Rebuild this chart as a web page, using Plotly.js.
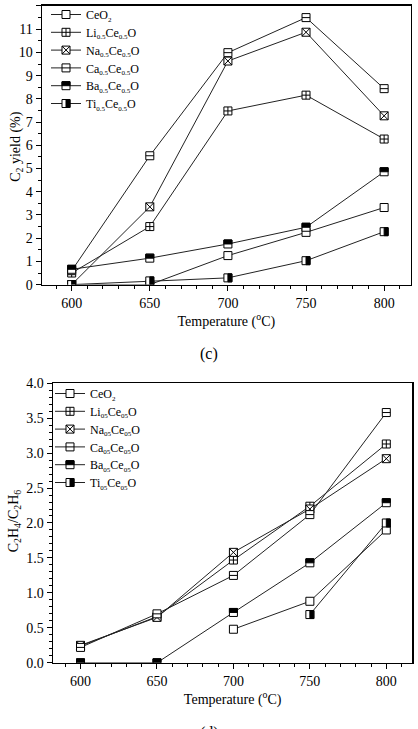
<!DOCTYPE html>
<html><head><meta charset="utf-8">
<script src="https://cdn.plot.ly/plotly-3.0.1.min.js"></script>
<style>html,body{margin:0;padding:0;background:#fff}#chart{width:418px;height:729px}</style>
</head><body><div id="chart"></div>
<script>
const temps = [600, 650, 700, 750, 800];
const seriesKeys = ['CeO2', 'Li', 'Na', 'Ca', 'Ba', 'Ti'];
const subTop = '0.5';
const subBottom = '05';
const elements = ['Li', 'Na', 'Ca', 'Ba', 'Ti'];

// (c) C2 yield (%)
const yieldCeO2 = [0.0, 0.0, 1.25, 2.25, 3.32];
const yieldLi   = [0.5, 2.5, 7.48, 8.16, 6.27];
const yieldNa   = [0.0, 3.35, 9.63, 10.87, 7.27];
const yieldCa   = [0.6, 5.55, 9.99, 11.5, 8.44];
const yieldBa   = [0.66, 1.14, 1.75, 2.47, 4.86];
const yieldTi   = [0.0, 0.16, 0.29, 1.03, 2.28];

// (d) C2H4/C2H6 ratio
const ratioCeO2 = [null, null, 0.48, 0.88, 1.90];
const ratioLi   = [0.24, 0.66, 1.47, 2.24, 3.13];
const ratioNa   = [0.25, 0.65, 1.58, 2.20, 2.92];
const ratioCa   = [0.22, 0.70, 1.25, 2.12, 3.58];
const ratioBa   = [0.0, 0.0, 0.72, 1.43, 2.29];
const ratioTi   = [null, null, null, 0.69, 2.00];

const topData = [yieldCeO2, yieldLi, yieldNa, yieldCa, yieldBa, yieldTi];
const botData = [ratioCeO2, ratioLi, ratioNa, ratioCa, ratioBa, ratioTi];
const symbols = {CeO2: 'square', Li: 'square-cross', Na: 'square-x', Ca: 'square', Ba: 'square', Ti: 'square'};

const small = s => `<sub><span style="font-size:7px">${s}</span></sub>`;
const namesTop = ['CeO' + small('2')].concat(elements.map(e => `${e}${small(subTop)}Ce${small(subTop)}O`));
const namesBottom = ['CeO' + small('2')].concat(elements.map(e => `${e}${small(subBottom)}Ce${small(subBottom)}O`));

const FONT = '"Liberation Serif", serif';
const traces = [];
seriesKeys.forEach((k, i) => {
  traces.push({
    x: temps, y: topData[i], name: namesTop[i], meta: k, type: 'scatter', mode: 'lines+markers',
    xaxis: 'x', yaxis: 'y', legend: 'legend',
    line: {color: '#222', width: 1},
    marker: {symbol: symbols[k], size: 8, color: '#fff', line: {color: '#000', width: 1}},
    connectgaps: false
  });
});
seriesKeys.forEach((k, i) => {
  traces.push({
    x: temps, y: botData[i], name: namesBottom[i], meta: k, type: 'scatter', mode: 'lines+markers',
    xaxis: 'x2', yaxis: 'y2', legend: 'legend2',
    line: {color: '#222', width: 1},
    marker: {symbol: symbols[k], size: 8, color: '#fff', line: {color: '#000', width: 1}},
    connectgaps: false
  });
});

const W = 418, H = 729;
const axBase = {
  showline: true, linecolor: '#000', linewidth: 1.5, mirror: true,
  ticks: 'outside', ticklen: 5, tickwidth: 1, tickcolor: '#000',
  showgrid: false, zeroline: false,
  tickfont: {family: FONT, size: 14, color: '#000'},
  minor: {ticks: 'outside', ticklen: 3, tickwidth: 1, tickcolor: '#000'}
};
const xTitle = {text: 'Temperature (<sup>o</sup>C)', font: {family: FONT, size: 14, color: '#000'}, standoff: 0};
const annFont = {family: FONT, size: 14, color: '#000'};

const layout = {
  width: W, height: H,
  margin: {l: 0, r: 0, t: 0, b: 0},
  paper_bgcolor: '#fff', plot_bgcolor: '#fff',
  font: {family: FONT, color: '#000'},
  showlegend: true,
  xaxis: Object.assign({}, axBase, {
    domain: [42 / W, 410.7 / W], range: [581, 817], tickvals: temps, anchor: 'y',
    minor: Object.assign({}, axBase.minor, {dtick: 10}),
    title: xTitle
  }),
  yaxis: Object.assign({}, axBase, {
    domain: [1 - 284 / H, 1 - 5 / H], range: [0, 12], dtick: 1, anchor: 'x',
    minor: Object.assign({}, axBase.minor, {dtick: 0.5})
  }),
  xaxis2: Object.assign({}, axBase, {
    domain: [53 / W, 412.3 / W], range: [582, 817], tickvals: temps, anchor: 'y2',
    minor: Object.assign({}, axBase.minor, {dtick: 10}),
    title: xTitle
  }),
  yaxis2: Object.assign({}, axBase, {
    domain: [1 - 662.7 / H, 1 - 382.7 / H], range: [0, 4], dtick: 0.5, tickformat: '.1f', anchor: 'x2',
    minor: Object.assign({}, axBase.minor, {dtick: 0.1})
  }),
  legend: {
    x: 46 / W, y: 1 + 1 / H, xanchor: 'left', yanchor: 'top',
    bgcolor: 'rgba(255,255,255,0)', borderwidth: 0,
    font: {family: FONT, size: 12, color: '#000'}, itemwidth: 30, tracegroupgap: 0
  },
  legend2: {
    x: 50 / W, y: 1 - 379 / H, xanchor: 'left', yanchor: 'top',
    bgcolor: 'rgba(255,255,255,0)', borderwidth: 0,
    font: {family: FONT, size: 12, color: '#000'}, itemwidth: 30, tracegroupgap: 0
  },
  annotations: [
    {text: 'C<sub>2</sub> yield (%)', xref: 'paper', yref: 'paper', x: 17 / W, y: 1 - 146 / H, xanchor: 'center', yanchor: 'middle', textangle: -90, showarrow: false, font: annFont},
    {text: 'C<sub>2</sub>H<sub>4</sub>/C<sub>2</sub>H<sub>6</sub>', xref: 'paper', yref: 'paper', x: 14 / W, y: 1 - 521 / H, xanchor: 'center', yanchor: 'middle', textangle: -90, showarrow: false, font: annFont},
    {text: '(c)', xref: 'paper', yref: 'paper', x: 0.5, y: 1 - 353 / H, xanchor: 'center', yanchor: 'middle', showarrow: false, font: {family: FONT, size: 16, color: '#000'}},
    {text: '(d)', xref: 'paper', yref: 'paper', x: 0.5, y: 1 - 722 / H, xanchor: 'center', yanchor: 'top', showarrow: false, font: {family: FONT, size: 16, color: '#000'}}
  ]
};

function addOverlay(pathEl, kind) {
  const d = pathEl.getAttribute('d') || '';
  const m = /M\s*([\d.]+)/.exec(d);
  if (!m) return;
  const r = parseFloat(m[1]);
  const ns = 'http://www.w3.org/2000/svg';
  const p = document.createElementNS(ns, 'path');
  if (kind === 'Ca') {
    p.setAttribute('d', `M${-r},0H${r}`);
    p.setAttribute('style', 'stroke:#000;stroke-width:1;fill:none');
  } else if (kind === 'Ba') {
    p.setAttribute('d', `M${-r},${-r}H${r}V0H${-r}Z`);
    p.setAttribute('style', 'stroke:#000;stroke-width:1;fill:#000');
  } else if (kind === 'Ti') {
    p.setAttribute('d', `M0,${-r}H${r}V${r}H0Z`);
    p.setAttribute('style', 'stroke:#000;stroke-width:1;fill:#000');
  } else return;
  const tr = pathEl.getAttribute('transform');
  if (tr) p.setAttribute('transform', tr);
  pathEl.parentNode.insertBefore(p, pathEl.nextSibling);
}
function traceOf(el) {
  const dd = el.__data__;
  if (!dd) return null;
  if (Array.isArray(dd) && dd[0]) {
    if (dd[0].trace) return dd[0].trace;
    if (Array.isArray(dd[0]) && dd[0][0] && dd[0][0].trace) return dd[0][0].trace;
  }
  if (dd.trace) return dd.trace;
  return null;
}
const LEGEND_ROW = 17.8;
function decorate(gd) {
  gd.querySelectorAll('.scatterlayer .trace').forEach(g => {
    const t = traceOf(g); if (!t) return;
    g.querySelectorAll('path.point').forEach(p => addOverlay(p, t.meta));
  });
  gd.querySelectorAll('g.legend, g.legend2').forEach(lg => {
    const items = Array.from(lg.querySelectorAll('g.traces'));
    let y0 = null;
    items.forEach((g, i) => {
      const t = traceOf(g);
      if (t) g.querySelectorAll('.legendpoints path.scatterpts').forEach(p => addOverlay(p, t.meta));
      const tr = g.getAttribute('transform') || '';
      const m = /translate\(\s*([-\d.]+)[ ,]+([-\d.]+)\s*\)/.exec(tr);
      if (m) {
        const x = parseFloat(m[1]), y = parseFloat(m[2]);
        if (y0 === null) y0 = y;
        g.setAttribute('transform', `translate(${x},${y0 + i * LEGEND_ROW})`);
      }
    });
  });
}
const gd = document.getElementById('chart');
Plotly.newPlot(gd, traces, layout, {staticPlot: true, displayModeBar: false}).then(() => decorate(gd));
</script></body></html>
